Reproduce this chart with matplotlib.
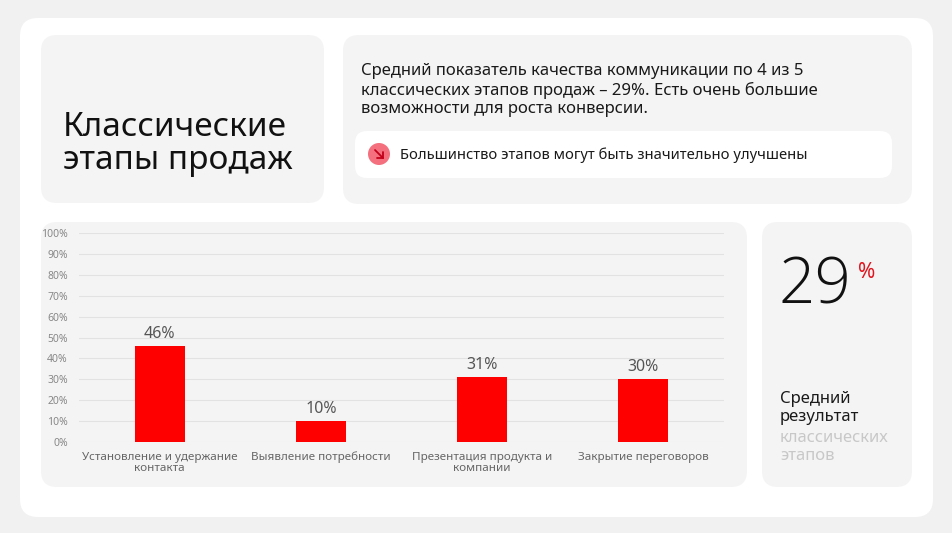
#!/usr/bin/env python3

"""Classic sales stages - communication quality per stage."""

import matplotlib.pyplot as plt
from matplotlib.patches import FancyBboxPatch, Circle

stages = ["Установление и удержание\nконтакта", "Выявление потребности",
          "Презентация продукта и\nкомпании", "Закрытие переговоров"]
values = [46, 10, 31, 30]
yticks = list(range(0, 101, 10))
average = 29

plt.rcParams['font.family'] = ['Noto Sans', 'DejaVu Sans']

W, H = 953, 533
fig = plt.figure(figsize=(W / 100, H / 100), dpi=100)
fig.patch.set_facecolor('#f1f1f1')

bg = fig.add_axes([0, 0, 1, 1])
bg.set_xlim(0, W)
bg.set_ylim(H, 0)
bg.axis('off')


def card(x0, y0, x1, y1, color, r):
    bg.add_patch(FancyBboxPatch((x0 + r, y0 + r), x1 - x0 - 2 * r, y1 - y0 - 2 * r,
                                boxstyle=f"round,pad={r}", fc=color, ec='none'))


card(20, 18, 933, 517, 'white', 18)
card(41, 35, 324, 203, '#f4f4f4', 16)
card(343, 35, 912, 204, '#f4f4f4', 16)
card(355, 131, 892, 178, 'white', 12)
card(41, 222, 747, 487, '#f4f4f4', 16)
card(762, 222, 912, 487, '#f4f4f4', 16)

# title
bg.text(63, 144, "Классические\nэтапы продаж", fontsize=24, color='#111111',
        va='center', ha='left', linespacing=1.0)

# summary text
bg.text(361, 90, "Средний показатель качества коммуникации по 4 из 5\n"
        "классических этапов продаж – 29%. Есть очень большие\n"
        "возможности для роста конверсии.",
        fontsize=12, color='#1a1a1a', va='center', ha='left', linespacing=1.18)

# pill with arrow icon
bg.add_patch(Circle((379, 154), 11, fc='#f4707e', ec='none'))
bg.plot([375, 383], [150, 158], color='#c2001a', lw=1.3, solid_capstyle='round')
bg.plot([377, 383, 383], [158, 158, 152], color='#c2001a', lw=1.3,
        solid_capstyle='round', solid_joinstyle='miter')
bg.text(400, 155, "Большинство этапов могут быть значительно улучшены",
        fontsize=10.6, color='#1a1a1a', va='center', ha='left')

# big number
bg.text(779, 287, str(average), fontsize=46, color='#111111', fontweight='light',
        family=['Open Sans', 'Noto Sans'], va='center', ha='left')
bg.text(858, 272, "%", fontsize=15, color='#e0141e', va='center', ha='left')
bg.text(780, 408, "Средний\nрезультат", fontsize=12, color='#1a1a1a',
        va='center', ha='left', linespacing=1.2)
bg.text(780, 447, "классических\nэтапов", fontsize=12, color='#c8c8c8',
        va='center', ha='left', linespacing=1.2)

# bar chart
ax = fig.add_axes([79 / W, (H - 442) / H, 645 / W, 209 / H])
ax.set_facecolor('none')
x = range(len(values))
ax.bar(x, values, width=0.31, color='#ff0000', zorder=3)
for xi, v in zip(x, values):
    ax.text(xi, v + 2, f"{v}%", ha='center', va='bottom', fontsize=11.5, color='#555555')
ax.set_xlim(-0.5, len(values) - 0.5)
ax.set_ylim(0, 100)
ax.set_yticks(yticks)
ax.set_yticklabels([f"{t}%" for t in yticks], fontsize=7.5, color='#888888')
ax.set_xticks(list(x))
ax.set_xticklabels(stages, fontsize=8.4, color='#666666', linespacing=1.05)
ax.tick_params(axis='y', length=0, pad=8)
ax.tick_params(axis='x', length=0, pad=7)
ax.grid(axis='y', color='#e2e2e2', lw=0.8, zorder=0)
for s in ax.spines.values():
    s.set_visible(False)

fig.savefig('out.png', dpi=100, facecolor=fig.get_facecolor())
